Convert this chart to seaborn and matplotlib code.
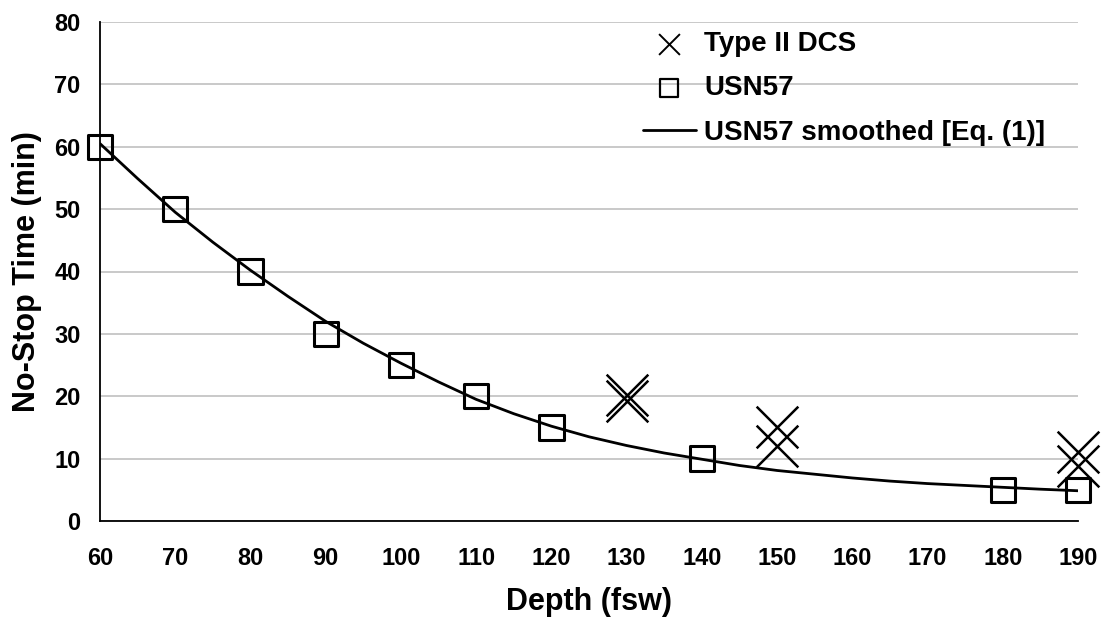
import matplotlib
matplotlib.use("Agg")
import matplotlib.pyplot as plt
import seaborn as sns
import pandas as pd

# ---- data ----
usn_depth = [60, 70, 80, 90, 100, 110, 120, 140, 180, 190]
usn_time = [60, 50, 40, 30, 25, 20, 15, 10, 5, 5]

dcs_depth = [130, 130, 150, 150, 190, 190]
dcs_time = [20.2, 19.3, 15.0, 12.0, 11.0, 8.8]

smooth_depth = [60, 65, 70, 75, 80, 85, 90, 95, 100, 105, 110, 115, 120, 125,
                130, 135, 140, 145, 150, 155, 160, 165, 170, 175, 180, 185, 190]
smooth_time = [60.5, 54.9, 49.5, 44.7, 40.2, 36.0, 32.0, 28.5, 25.3, 22.3, 19.5,
               17.2, 15.2, 13.5, 12.1, 10.9, 9.9, 8.9, 8.1, 7.5, 6.9, 6.4, 6.0,
               5.7, 5.4, 5.1, 4.85]

x_ticks = [60, 70, 80, 90, 100, 110, 120, 130, 140, 150, 160, 170, 180, 190]
y_ticks = [0, 10, 20, 30, 40, 50, 60, 70, 80]

sns.set_style("white")
plt.rcParams["font.family"] = ["Liberation Sans", "DejaVu Sans"]
plt.rcParams["font.weight"] = "bold"
plt.rcParams["text.color"] = "black"
plt.rcParams["axes.labelcolor"] = "black"
plt.rcParams["xtick.color"] = "black"
plt.rcParams["ytick.color"] = "black"

W, H = 1102, 633
fig = plt.figure(figsize=(W / 100, H / 100), dpi=100)
ax = fig.add_axes([100 / W, 1 - 521 / H, (1078 - 100) / W, (521 - 22) / H])

df_dcs = pd.DataFrame({"x": dcs_depth, "y": dcs_time})
df_usn = pd.DataFrame({"x": usn_depth, "y": usn_time})
df_s = pd.DataFrame({"x": smooth_depth, "y": smooth_time})

sns.lineplot(data=df_s, x="x", y="y", ax=ax, color="black", linewidth=2.0,
             label="USN57 smoothed [Eq. (1)]", zorder=3, legend=False)
line_handle = ax.get_lines()[0]
sc_usn = ax.scatter(df_usn["x"], df_usn["y"], marker="s", s=17.5 ** 2,
                    facecolors="none", edgecolors="black", linewidths=2.2,
                    label="USN57", zorder=4, clip_on=False)
sc_dcs = ax.scatter(df_dcs["x"], df_dcs["y"], marker="x", s=30 ** 2,
                    color="black", linewidths=1.8, label="Type II DCS",
                    zorder=5, clip_on=False)
if ax.get_legend() is not None:
    ax.get_legend().remove()

ax.set_xlim(60, 190)
ax.set_ylim(0, 80)
ax.set_xticks(x_ticks)
ax.set_yticks(y_ticks)
ax.yaxis.grid(True, color="#c0c0c0", linewidth=1.2)
ax.xaxis.grid(False)
ax.set_axisbelow(True)
for s in ["top", "right"]:
    ax.spines[s].set_visible(False)
for s in ["left", "bottom"]:
    ax.spines[s].set_color("black")
    ax.spines[s].set_linewidth(1.3)

ax.tick_params(axis="x", direction="out", length=6, width=1, color="#444444",
               pad=13, labelsize=17, labelcolor="black")
ax.tick_params(axis="y", direction="out", length=6, width=1, color="#444444",
               pad=8, labelsize=17, labelcolor="black")
for lab in ax.get_xticklabels() + ax.get_yticklabels():
    lab.set_fontweight("bold")

ax.set_xlabel("Depth (fsw)", fontsize=22, fontweight="bold", labelpad=12,
              color="black")
ax.set_ylabel("No-Stop Time (min)", fontsize=22, fontweight="bold",
              labelpad=9, color="black")

order_h = [sc_dcs, sc_usn, line_handle]
order_l = ["Type II DCS", "USN57", "USN57 smoothed [Eq. (1)]"]
leg = fig.legend(order_h, order_l, loc="upper left",
                 bbox_to_anchor=(643 / W, 1 - 31 / H), frameon=False,
                 prop={"weight": "bold", "size": 20}, handlelength=1.9,
                 handletextpad=0.3, labelspacing=0.66, borderpad=0,
                 borderaxespad=0, scatterpoints=1)
for t in leg.get_texts():
    t.set_color("black")
lh = leg.legend_handles
lh[0].set_sizes([15 ** 2])
lh[0].set_linewidths([1.4])
lh[1].set_sizes([13 ** 2])
lh[1].set_linewidths([1.6])

fig.savefig("out.png", dpi=100)
